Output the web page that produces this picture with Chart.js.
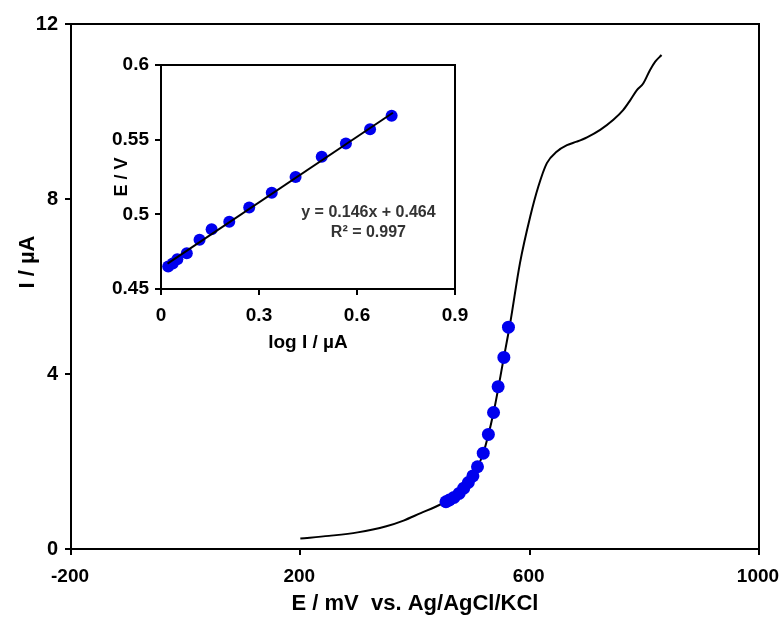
<!DOCTYPE html>
<html>
<head>
<meta charset="utf-8">
<script src="https://cdn.jsdelivr.net/npm/chart.js@4.4.1/dist/chart.umd.min.js"></script>
<style>
  html, body { margin: 0; padding: 0; background: #fff; }
  #wrap { position: relative; width: 780px; height: 620px; }
  #mainChart { position: absolute; left: 0; top: 0; }
  #insetChart { position: absolute; left: 90px; top: 45px; }
</style>
</head>
<body>
<div id="wrap">
  <canvas id="mainChart" width="780" height="620"></canvas>
  <canvas id="insetChart" width="380" height="315"></canvas>
</div>
<script>
// main plot: linear sweep voltammogram
const CURVE_E = [200, 250, 300, 350, 380, 410, 435, 454, 468, 485, 501, 519, 537, 555, 566, 583, 601, 615, 630, 647, 665, 682, 700, 723, 746, 763, 775, 787, 798, 810, 819, 830];
const CURVE_I = [0.24, 0.30, 0.38, 0.52, 0.65, 0.82, 0.96, 1.08, 1.18, 1.39, 1.67, 2.19, 3.12, 4.38, 5.16, 6.53, 7.60, 8.28, 8.82, 9.08, 9.23, 9.31, 9.41, 9.58, 9.81, 10.03, 10.25, 10.49, 10.64, 10.95, 11.14, 11.29];

// points used for the Tafel plot
const DOT_E = [454, 460, 468, 477, 485, 493, 501, 509, 519, 528, 537, 545, 555, 563];
const DOT_I = [1.08, 1.12, 1.18, 1.27, 1.39, 1.52, 1.67, 1.88, 2.19, 2.62, 3.12, 3.71, 4.38, 5.07];

const X_TICKS = ['-200', '200', '600', '1000'];
const Y_TICKS = ['0', '4', '8', '12'];

// inset: E vs log I
const LOG_I = [0.022, 0.036, 0.050, 0.079, 0.118, 0.155, 0.209, 0.270, 0.339, 0.412, 0.492, 0.566, 0.640, 0.706];
const E_V = [0.465, 0.467, 0.470, 0.474, 0.483, 0.490, 0.495, 0.5045, 0.5145, 0.525, 0.5385, 0.5475, 0.557, 0.566];
const FIT_X = [0.02, 0.71];
const FIT_Y = [0.467, 0.568];
const INSET_X_TICKS = ['0', '0.3', '0.6', '0.9'];
const INSET_Y_TICKS = ['0.45', '0.5', '0.55', '0.6'];
const EQUATION = ['y = 0.146x + 0.464', 'R² = 0.997'];

const FONT = '"Liberation Sans", Arial, sans-serif';
const BLUE = '#0000ee';

const toPts = (xs, ys) => xs.map((x, i) => ({ x: x, y: ys[i] }));

// frame around plot area (top + right sides)
const boxPlugin = {
  id: 'box',
  afterDraw(chart) {
    const a = chart.chartArea, c = chart.ctx;
    c.save();
    c.strokeStyle = '#000';
    c.lineWidth = 2;
    c.strokeRect(a.left, a.top, a.right - a.left, a.bottom - a.top);
    c.restore();
  }
};

// main y title sits a bit above centre in the original
const yTitlePlugin = {
  id: 'yTitle',
  afterDraw(chart) {
    const c = chart.ctx;
    c.save();
    c.translate(28, 262);
    c.rotate(-Math.PI / 2);
    c.font = 'bold 22px ' + FONT;
    c.fillStyle = '#000';
    c.textAlign = 'center';
    c.textBaseline = 'middle';
    c.fillText('I / µA', 0, 0);
    c.restore();
  }
};

const eqPlugin = {
  id: 'eq',
  afterDraw(chart) {
    const c = chart.ctx, sx = chart.scales.x, sy = chart.scales.y;
    c.save();
    c.font = 'bold 16px ' + FONT;
    c.fillStyle = '#333';
    c.textAlign = 'center';
    c.textBaseline = 'middle';
    c.fillText(EQUATION[0], sx.getPixelForValue(0.635), sy.getPixelForValue(0.501));
    c.fillText(EQUATION[1], sx.getPixelForValue(0.635), sy.getPixelForValue(0.488));
    c.restore();
  }
};

// fixed axis box sizes, no label overhang padding
function fitX(h) {
  return s => { s.height = h; s.paddingLeft = 0; s.paddingRight = 0; };
}
function fitY(w) {
  return s => { s.width = w; s.paddingTop = 0; s.paddingBottom = 0; };
}

function axis(opts) {
  return Object.assign({
    type: 'linear',
    grid: { display: true, drawOnChartArea: false, drawTicks: true, tickLength: 6, color: '#000', lineWidth: 2 },
    border: { display: true, color: '#000', width: 2 }
  }, opts);
}

new Chart(document.getElementById('mainChart'), {
  type: 'scatter',
  data: {
    datasets: [
      {
        type: 'scatter',
        data: toPts(DOT_E, DOT_I),
        backgroundColor: BLUE,
        borderWidth: 0,
        pointRadius: 6.5,
        order: 0
      },
      {
        type: 'line',
        data: toPts(CURVE_E, CURVE_I),
        borderColor: '#000',
        borderWidth: 2,
        pointRadius: 0,
        cubicInterpolationMode: 'monotone',
        fill: false,
        order: 1
      }
    ]
  },
  options: {
    responsive: false,
    animation: false,
    layout: { padding: { left: 0, top: 24, right: 21, bottom: 0 } },
    plugins: { legend: { display: false }, tooltip: { enabled: false } },
    scales: {
      x: axis({
        min: -200, max: 1000,
        afterBuildTicks: s => { s.ticks = X_TICKS.map(v => ({ value: Number(v) })); },
        afterFit: fitX(71),
        ticks: { color: '#000', padding: 10, maxRotation: 0, labelOffset: -1, font: { family: FONT, size: 19, weight: 'bold' },
                 callback: (v, i) => X_TICKS[i] },
        title: { display: true, text: 'E / mV  vs. Ag/AgCl/KCl', color: '#000', padding: { top: 0, bottom: 3 }, font: { family: FONT, size: 22, weight: 'bold' } }
      }),
      y: axis({
        min: 0, max: 12,
        afterBuildTicks: s => { s.ticks = Y_TICKS.map(v => ({ value: Number(v) })); },
        afterFit: fitY(71),
        ticks: { color: '#000', padding: 7, font: { family: FONT, size: 20, weight: 'bold' },
                 callback: (v, i) => Y_TICKS[i] }
      })
    }
  },
  plugins: [boxPlugin, yTitlePlugin]
});

new Chart(document.getElementById('insetChart'), {
  type: 'scatter',
  data: {
    datasets: [
      {
        type: 'line',
        data: toPts(FIT_X, FIT_Y),
        borderColor: '#000',
        borderWidth: 2,
        pointRadius: 0,
        fill: false,
        order: 0
      },
      {
        type: 'scatter',
        data: toPts(LOG_I, E_V),
        backgroundColor: BLUE,
        borderWidth: 0,
        pointRadius: 6,
        order: 1
      }
    ]
  },
  options: {
    responsive: false,
    animation: false,
    layout: { padding: { left: 0, top: 20, right: 15, bottom: 0 } },
    plugins: { legend: { display: false }, tooltip: { enabled: false } },
    scales: {
      x: axis({
        min: 0, max: 0.9,
        afterBuildTicks: s => { s.ticks = INSET_X_TICKS.map(v => ({ value: Number(v) })); },
        afterFit: fitX(71),
        ticks: { color: '#000', padding: 9, maxRotation: 0, font: { family: FONT, size: 19, weight: 'bold' },
                 callback: (v, i) => INSET_X_TICKS[i] },
        title: { display: true, text: 'log I / µA', color: '#000', padding: { top: 0, bottom: 6 }, font: { family: FONT, size: 19, weight: 'bold' } }
      }),
      y: axis({
        min: 0.45, max: 0.6,
        afterBuildTicks: s => { s.ticks = INSET_Y_TICKS.map(v => ({ value: Number(v) })); },
        afterFit: fitY(71),
        ticks: { color: '#000', padding: 6, font: { family: FONT, size: 19, weight: 'bold' },
                 callback: (v, i) => INSET_Y_TICKS[i] },
        title: { display: true, text: 'E / V', color: '#000', padding: { top: 21, bottom: 0 }, font: { family: FONT, size: 18, weight: 'bold' } }
      })
    }
  },
  plugins: [boxPlugin, eqPlugin]
});
</script>
</body>
</html>
